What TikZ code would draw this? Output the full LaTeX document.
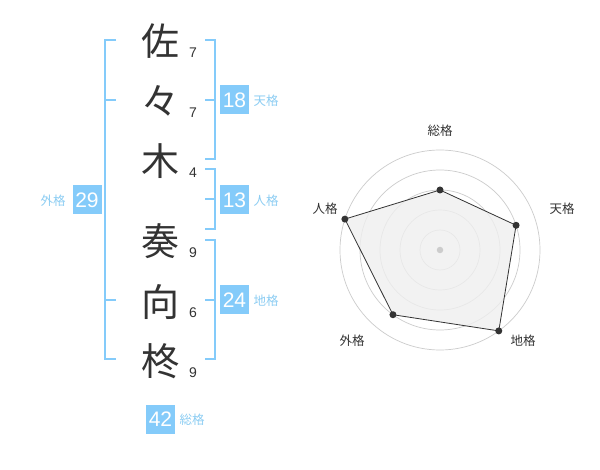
\documentclass[tikz,border=0pt]{standalone}
\usepackage{fontspec}
\usetikzlibrary{calc}
\setmainfont{Liberation Sans}
\newfontfamily\jp{Noto Sans CJK JP}
\definecolor{kblue}{HTML}{84CBFA}
\definecolor{lblue}{HTML}{8CCDF3}
\definecolor{tgray}{HTML}{333333}
\definecolor{ringgray}{HTML}{CCCCCC}
\definecolor{polyfill}{HTML}{EFEFEF}
\begin{document}
\begin{tikzpicture}[x=1pt,y=-1pt,
  kanji/.style={font=\jp\fontsize{38}{38}\selectfont, text=tgray, inner sep=0},
  strokes/.style={font=\fontsize{14}{14}\selectfont, text=tgray, inner sep=0},
  numbox/.style={fill=kblue, text=white, minimum width=29, minimum height=29, inner sep=0, font=\fontsize{21}{21}\selectfont},
  kaku/.style={font=\jp\fontsize{12.5}{12.5}\selectfont, text=lblue, inner sep=0},
  rlabel/.style={font=\jp\fontsize{12.5}{12.5}\selectfont, text=tgray, inner sep=0},
  br/.style={draw=kblue, line width=2},
  ring/.style={draw=ringgray, line width=0.7},
  dot/.style={circle, fill=tgray, inner sep=0, minimum size=7},
]
\useasboundingbox (0,0) rectangle (600,470);
\fill[white] (0,0) rectangle (600,470);

% kanji
\node[kanji] (k1) at (160,41) {佐};
\node[kanji] (k2) at (160,101) {々};
\node[kanji] (k3) at (160,161) {木};
\node[kanji] (k4) at (160,241) {奏};
\node[kanji] (k5) at (160,302) {向};
\node[kanji] (k6) at (160,361) {柊};

\node[strokes] (s1) at (193,53) {7};
\node[strokes] (s2) at (193,113) {7};
\node[strokes] (s3) at (193,173) {4};
\node[strokes] (s4) at (193,253) {9};
\node[strokes] (s5) at (193,313) {6};
\node[strokes] (s6) at (193,373) {9};

% brackets
\draw[br] (116,40) -- (105,40) -- (105,359) -- (116,359);
\draw[br] (105,100) -- (116,100);
\draw[br] (105,300) -- (116,300);

\draw[br] (205,40) -- (215,40) -- (215,159) -- (205,159);
\draw[br] (205,100) -- (215,100);
\draw[br] (205,169) -- (215,169) -- (215,229) -- (205,229);
\draw[br] (205,199) -- (215,199);
\draw[br] (205,240) -- (215,240) -- (215,359) -- (205,359);
\draw[br] (205,300) -- (215,300);

% boxes
\node[numbox] (b29) at (87,200) {29};
\node[kaku] (l29) at (53,201) {外格};
\node[numbox] (b18) at (234.5,100) {18};
\node[kaku] (l18) at (266,101) {天格};
\node[numbox] (b13) at (234.5,200) {13};
\node[kaku] (l13) at (266,201) {人格};
\node[numbox] (b24) at (234.5,300) {24};
\node[kaku] (l24) at (266,301) {地格};
\node[numbox] (b42) at (160.5,419) {42};
\node[kaku] (l42) at (192,420) {総格};

% radar
\coordinate (c) at (440,250);
\foreach \r in {20,40,60,80,100} \draw[ring] (c) circle (\r);
\coordinate (p1) at ($(c)+(-90:60)$);
\coordinate (p2) at ($(c)+(-18:80)$);
\coordinate (p3) at ($(c)+(54:100)$);
\coordinate (p4) at ($(c)+(126:80)$);
\coordinate (p5) at ($(c)+(198:100)$);
\fill[polyfill, opacity=0.8] (p1) -- (p2) -- (p3) -- (p4) -- (p5) -- cycle;
\draw[tgray, line width=0.8] (p1) -- (p2) -- (p3) -- (p4) -- (p5) -- cycle;
\foreach \p in {p1,p2,p3,p4,p5} \node[dot] at (\p) {};
\node[circle, fill=ringgray, inner sep=0, minimum size=6.5] (cdot) at (c) {};

\node[rlabel] (r1) at (440,131) {総格};
\node[rlabel] (r2) at (562,209) {天格};
\node[rlabel] (r3) at (523,341) {地格};
\node[rlabel] (r4) at (352,341) {外格};
\node[rlabel] (r5) at (325,209) {人格};
\end{tikzpicture}
\end{document}
